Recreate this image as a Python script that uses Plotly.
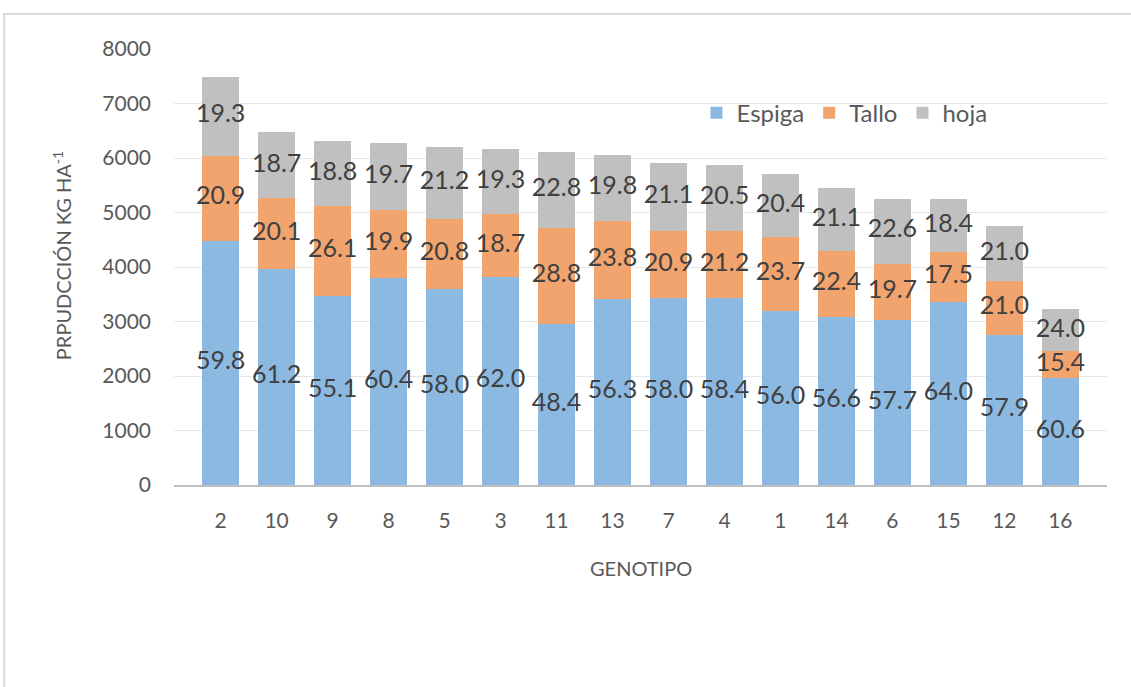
import plotly.graph_objects as go

# Genotypes ordered by total production
genotipos = ["2", "10", "9", "8", "5", "3", "11", "13", "7", "4", "1", "14", "6", "15", "12", "16"]

# Total production per genotype (kg/ha)
total_kg = [7490, 6470, 6305, 6280, 6195, 6165, 6110, 6055, 5915, 5865, 5700, 5445, 5250, 5250, 4750, 3225]

# Share of each organ in the total (%)
pct_espiga = [59.8, 61.2, 55.1, 60.4, 58.0, 62.0, 48.4, 56.3, 58.0, 58.4, 56.0, 56.6, 57.7, 64.0, 57.9, 60.6]
pct_tallo = [20.9, 20.1, 26.1, 19.9, 20.8, 18.7, 28.8, 23.8, 20.9, 21.2, 23.7, 22.4, 19.7, 17.5, 21.0, 15.4]
pct_hoja = [19.3, 18.7, 18.8, 19.7, 21.2, 19.3, 22.8, 19.8, 21.1, 20.5, 20.4, 21.1, 22.6, 18.4, 21.0, 24.0]

series = [
    ("Espiga", pct_espiga, "#8CB9E2"),
    ("Tallo", pct_tallo, "#F2A46F"),
    ("hoja", pct_hoja, "#C0C0C0"),
]

FONT = "Lato"
TXT = "#404040"

fig = go.Figure()
label_x, label_y, label_txt = [], [], []
base = [0.0] * len(genotipos)
for name, pct, color in series:
    kg = [t * p / 100.0 for t, p in zip(total_kg, pct)]
    fig.add_trace(go.Bar(
        x=genotipos, y=kg, name=name,
        marker=dict(color=color, line=dict(width=0)),
    ))
    for g, b, v, p in zip(genotipos, base, kg, pct):
        label_x.append(g)
        label_y.append(b + v / 2)
        label_txt.append(f"{p:.1f}")
    base = [b + v for b, v in zip(base, kg)]

# Percentage labels centred on each segment
fig.add_trace(go.Scatter(
    x=label_x, y=label_y, text=label_txt, mode="text",
    textposition="middle center", showlegend=False, hoverinfo="skip",
    textfont=dict(family=FONT, size=25, color=TXT), cliponaxis=False,
))

annotations = [
    dict(x=0.5, y=-0.19, xref="paper", yref="paper", text="GENOTIPO",
         xanchor="center", yanchor="middle", showarrow=False,
         font=dict(family=FONT, size=20, color="#595959")),
    dict(x=-0.12, y=0.525, xref="paper", yref="paper",
         text="PRPUDCCIÓN KG HA<sup>-1</sup>", textangle=-90,
         xanchor="center", yanchor="middle", showarrow=False,
         font=dict(family=FONT, size=20, color="#595959")),
]

fig.update_layout(
    width=1131, height=687,
    margin=dict(l=174, r=24, t=49, b=202),
    barmode="stack", bargap=0.35,
    plot_bgcolor="white", paper_bgcolor="white",
    font=dict(family=FONT, color="#595959"),
    annotations=annotations,
    legend=dict(
        orientation="h", traceorder="normal",
        x=0.56, y=0.853, xanchor="left", yanchor="middle",
        font=dict(family=FONT, size=24, color="#595959"),
        bgcolor="rgba(0,0,0,0)", itemwidth=30,
    ),
    shapes=[dict(
        type="path", xref="paper", yref="paper",
        path="M -0.182 -0.5 L -0.182 1.0803 L 1.2 1.0803",
        line=dict(color="#D9D9D9", width=2),
    )],
)

fig.update_xaxes(
    showgrid=False, showline=True, linecolor="#BFBFBF", linewidth=2,
    ticks="outside", ticklen=16, tickcolor="rgba(0,0,0,0)",
    tickfont=dict(family=FONT, size=21, color="#595959"),
)
fig.update_yaxes(
    range=[0, 8000], dtick=1000, showgrid=True, gridcolor="#E6E6E6", gridwidth=1,
    zeroline=False, showline=False, ticklabelstandoff=22,
    tickfont=dict(family=FONT, size=21, color="#595959"),
)

fig.write_html("out.html")
